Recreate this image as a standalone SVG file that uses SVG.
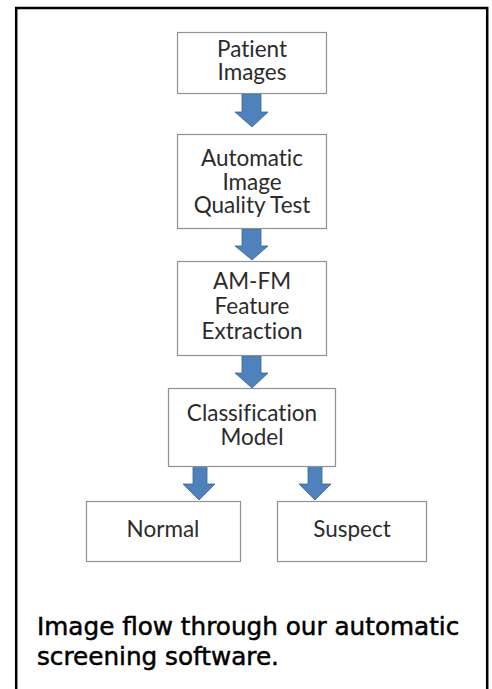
<svg xmlns="http://www.w3.org/2000/svg" width="492" height="689" viewBox="0 0 492 689">
<style>
.box{fill:#fff;stroke:#8b939c;stroke-width:1.2}
.t{font-family:Lato,"Open Sans",sans-serif;font-size:22.5px;fill:#2b2b2b;text-anchor:middle;font-variant-ligatures:none}
.arr{fill:#4f81bd;stroke:#3a6698;stroke-width:0.8}
.cap{font-family:"DejaVu Sans",sans-serif;font-size:24.7px;fill:#000;stroke:#000;stroke-width:0.5}
</style>
<rect x="0" y="0" width="492" height="689" fill="#fff"/>
<rect x="16.2" y="8" width="471" height="700" fill="none" stroke="#000" stroke-width="2.5"/>
<g id="connectors">
<path class="arr" d="M242,94 H261 V112 H268 L252,127 L235,112 H242 Z"/>
<path class="arr" d="M242,229 H261 V246 H268 L252,260 L235,246 H242 Z"/>
<path class="arr" d="M242,356 H261 V373 H268 L252,388 L235,373 H242 Z"/>
<path class="arr" d="M193,466 H207 V484 H215 L199,500 L183,484 H193 Z"/>
<path class="arr" d="M308,466 H322 V484 H331 L315,500 L299,484 H308 Z"/>
</g>
<g id="patient-images">
<rect class="box" x="177.5" y="32.5" width="149" height="61"/>
<text class="t" x="252" y="57">Patient</text>
<text class="t" x="252" y="80">Images</text>
</g>
<g id="quality-test">
<rect class="box" x="177.5" y="134.5" width="149" height="94"/>
<text class="t" x="252" y="166">Automatic</text>
<text class="t" x="252" y="190">Image</text>
<text class="t" x="252" y="213">Quality Test</text>
</g>
<g id="feature-extraction">
<rect class="box" x="177.5" y="261.5" width="149" height="94"/>
<text class="t" x="252" y="289">AM-FM</text>
<text class="t" x="252" y="314">Feature</text>
<text class="t" x="252" y="339">Extraction</text>
</g>
<g id="classification-model">
<rect class="box" x="168.5" y="388.5" width="167" height="78"/>
<text class="t" x="252" y="421">Classification</text>
<text class="t" x="252" y="445">Model</text>
</g>
<g id="normal">
<rect class="box" x="86.5" y="501.5" width="154" height="60"/>
<text class="t" x="163" y="537">Normal</text>
</g>
<g id="suspect">
<rect class="box" x="277.5" y="501.5" width="149" height="60"/>
<text class="t" x="352" y="537">Suspect</text>
</g>
<g id="caption">
<text class="cap" x="37" y="635">Image flow through our automatic</text>
<text class="cap" x="37" y="665">screening software.</text>
</g>
</svg>
